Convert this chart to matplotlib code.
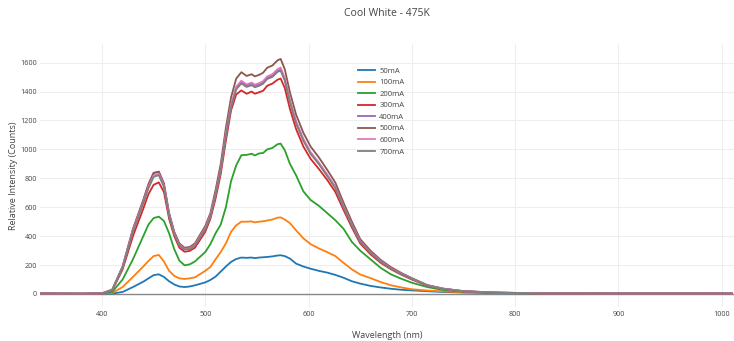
import matplotlib
matplotlib.use("Agg")
import matplotlib.pyplot as plt

plt.rcParams['font.family'] = ['Open Sans', 'DejaVu Sans']

# wavelength grid (nm)
wavelength = [340, 380, 400, 410, 420, 430, 440, 445, 450, 455, 460, 465, 470, 475, 480,
              485, 490, 500, 505, 510, 515, 520, 525, 530, 535, 540, 545, 548, 552, 556,
              560, 565, 570, 573, 577, 582, 588, 595, 602, 610, 618, 626, 634, 642, 650,
              660, 670, 680, 690, 700, 715, 730, 750, 780, 820, 900, 1010]

# relative intensity (counts) per drive current
ma50 = [2, 1, 1, 3, 14, 48, 85, 108, 130, 136, 118, 88, 66, 52, 48,
        52, 60, 80, 97, 120, 155, 190, 222, 242, 252, 250, 252, 248, 252, 254,
        256, 260, 266, 268, 262, 245, 210, 190, 175, 160, 148, 132, 112, 88, 72,
        56, 45, 36, 29, 25, 19, 14, 10, 6, 3, 2, 1]
ma100 = [2, 1, 2, 8, 48, 118, 190, 228, 262, 270, 225, 160, 125, 108, 104,
         108, 115, 160, 187, 240, 290, 350, 430, 475, 500, 500, 502, 495, 500, 503,
         508, 515, 528, 530, 515, 490, 440, 385, 345, 315, 290, 262, 215, 170, 135,
         110, 82, 60, 45, 33, 24, 18, 12, 7, 4, 2, 2]
ma200 = [3, 2, 3, 15, 100, 240, 400, 480, 525, 535, 505, 420, 310, 230, 198,
         205, 225, 290, 345, 420, 480, 600, 780, 890, 960, 962, 970, 958, 972, 975,
         1000, 1010, 1036, 1040, 995, 900, 820, 710, 650, 610, 560, 510, 450, 360, 300,
         240, 180, 135, 105, 78, 48, 28, 15, 8, 4, 3, 2]
ma300 = [3, 2, 4, 25, 170, 400, 590, 690, 755, 772, 705, 520, 400, 320, 292,
         298, 320, 430, 520, 660, 830, 1060, 1270, 1380, 1408, 1385, 1400, 1385, 1395, 1405,
         1440, 1455, 1482, 1490, 1425, 1280, 1140, 1020, 935, 865, 790, 705, 580, 460, 350,
         275, 215, 170, 133, 100, 57, 35, 18, 9, 5, 3, 3]
ma400 = [3, 2, 4, 30, 190, 445, 645, 755, 835, 846, 760, 555, 425, 345, 314,
         318, 343, 458, 545, 695, 865, 1105, 1300, 1425, 1466, 1442, 1455, 1440, 1450, 1465,
         1495, 1510, 1542, 1552, 1485, 1335, 1188, 1068, 977, 905, 823, 737, 602, 478, 363,
         287, 225, 177, 139, 105, 59, 36, 19, 10, 5, 3, 3]
ma500 = [3, 2, 4, 30, 190, 450, 650, 760, 838, 846, 765, 560, 430, 350, 320,
         325, 350, 470, 560, 720, 900, 1150, 1360, 1490, 1534, 1508, 1520, 1505, 1515, 1530,
         1565, 1580, 1616, 1626, 1555, 1395, 1240, 1115, 1020, 945, 860, 770, 630, 500, 380,
         300, 235, 185, 145, 110, 62, 38, 20, 10, 5, 3, 3]
ma600 = [3, 2, 4, 29, 185, 440, 635, 742, 820, 832, 750, 548, 420, 342, 312,
         316, 340, 455, 545, 695, 865, 1110, 1310, 1435, 1475, 1450, 1462, 1448, 1458, 1472,
         1505, 1520, 1555, 1566, 1495, 1342, 1193, 1073, 981, 909, 827, 741, 606, 481, 366,
         289, 226, 178, 140, 106, 60, 37, 19, 10, 5, 3, 3]
ma700 = [3, 2, 4, 28, 182, 432, 625, 730, 810, 822, 740, 540, 413, 337, 307,
         311, 334, 447, 535, 685, 855, 1095, 1290, 1415, 1456, 1432, 1444, 1430, 1439, 1454,
         1487, 1501, 1536, 1545, 1476, 1325, 1178, 1059, 969, 898, 817, 732, 599, 475, 361,
         285, 223, 176, 138, 105, 59, 36, 19, 10, 5, 3, 3]

labels = ['50mA', '100mA', '200mA', '300mA', '400mA', '500mA', '600mA', '700mA']
series = [ma50, ma100, ma200, ma300, ma400, ma500, ma600, ma700]
colors = ['#1f77b4', '#ff7f0e', '#2ca02c', '#d62728', '#9467bd', '#8c564b', '#e377c2', '#7f7f7f']

fig = plt.figure(figsize=(7.34, 3.41), dpi=100)
ax = fig.add_axes([40 / 734, 34 / 341, 694 / 734, 263 / 341])

for vals, lab, col in zip(series, labels, colors):
    ax.plot(wavelength, vals, color=col, lw=1.3, label=lab, solid_joinstyle='round')

ax.axhline(0, color='#888888', lw=1.0, zorder=1)

ax.set_xlim(340, 1012)
ax.set_ylim(-90, 1729)
ax.set_xticks(range(400, 1001, 100))
ax.set_yticks(range(0, 1601, 200))
ax.grid(True, color='#eeeeee', lw=0.8)
ax.set_axisbelow(True)
for s in ax.spines.values():
    s.set_visible(False)
ax.tick_params(length=0, labelsize=5.2, labelcolor='#444444')
ax.tick_params(axis='x', pad=3)
ax.tick_params(axis='y', pad=2)

ax.set_xlabel('Wavelength (nm)', fontsize=6.5, color='#444444', labelpad=9)
ax.set_ylabel('Relative Intensity (Counts)', fontsize=6.5, color='#444444', labelpad=2)
ax.set_title('Cool White - 475K', fontsize=7.5, color='#444444', pad=20)

leg = ax.legend(loc='upper left', bbox_to_anchor=(0.458, 0.911), frameon=False,
                fontsize=5.5, handlelength=2.2, handletextpad=0.6, labelspacing=0.55,
                borderpad=0, borderaxespad=0)
for t in leg.get_texts():
    t.set_color('#444444')

fig.savefig('out.png', dpi=100)
